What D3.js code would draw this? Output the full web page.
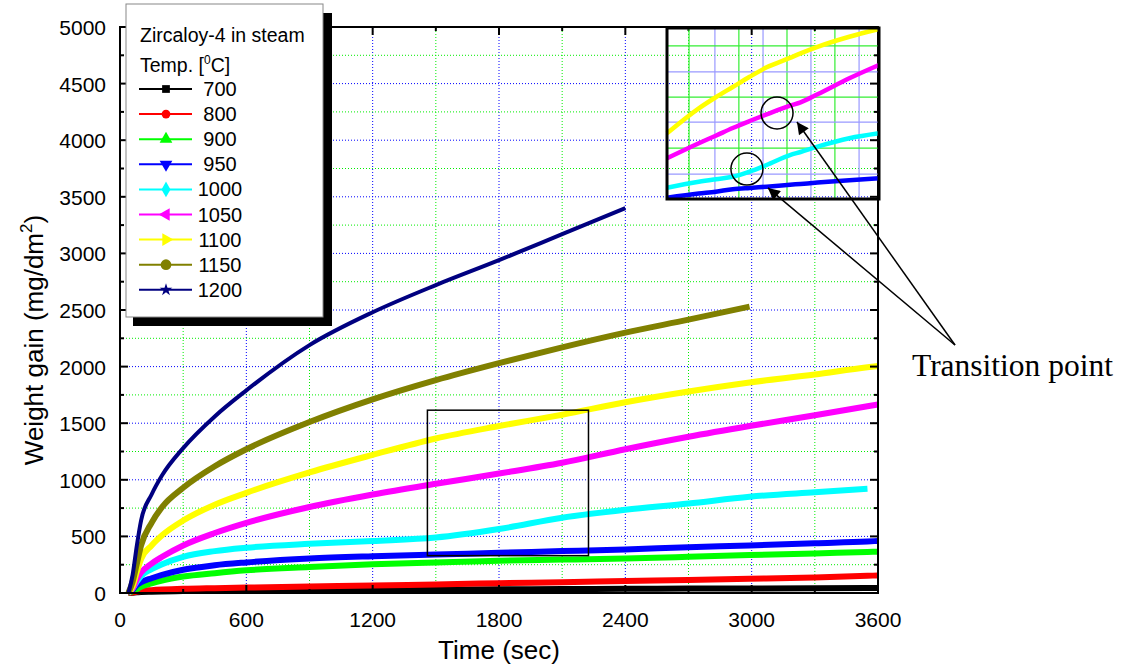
<!DOCTYPE html>
<html>
<head>
<meta charset="utf-8">
<script src="https://cdn.jsdelivr.net/npm/d3@7"></script>
<style>
  body { margin: 0; background: #fff; }
  text { font-family: Arial, "Liberation Sans", sans-serif; }
</style>
</head>
<body>
<svg id="chart" width="1132" height="668"></svg>
<script>
// weight gain of Zircaloy-4 in steam
var timeSec = [40, 60, 80, 100, 150, 200, 300, 450, 600, 900, 1200, 1500, 1800, 2100, 2400, 2700, 2990, 3300, 3550, 3600];

var temps = ["700", "800", "900", "950", "1000", "1050", "1100", "1150", "1200"];
var colors = ["#000000", "#ff0000", "#00ff00", "#0000ff", "#00ffff", "#ff00ff", "#ffff00", "#808000", "#000080"];

var w700  = [0, 3, 6, 9, 12, 14, 17, 20, 22, 26, 29, 31, 33, 35, 37, 39, 40, 42, 44, 44];
var w800  = [0, 5, 12, 18, 25, 30, 37, 43, 48, 57, 66, 76, 86, 95, 105, 115, 125, 138, 152, 155];
var w900  = [0, 15, 35, 55, 85, 110, 145, 175, 200, 230, 255, 270, 285, 295, 305, 320, 335, 350, 362, 365];
var w950  = [0, 30, 70, 95, 130, 160, 205, 245, 270, 305, 325, 340, 355, 370, 385, 405, 420, 440, 455, 460];
var w1000 = [0, 40, 100, 150, 210, 255, 320, 370, 400, 435, 460, 490, 565, 665, 735, 790, 850, 890, 920, null];
var w1050 = [0, 40, 120, 180, 260, 320, 420, 530, 620, 760, 870, 965, 1055, 1150, 1270, 1380, 1475, 1570, 1650, 1665];
var w1100 = [0, 60, 190, 300, 420, 510, 640, 780, 885, 1065, 1220, 1365, 1475, 1575, 1685, 1780, 1860, 1930, 1995, 2005];
var w1150 = [0, 100, 260, 420, 620, 760, 930, 1120, 1270, 1510, 1710, 1880, 2030, 2170, 2300, 2415, 2530, null, null, null];
var w1200 = [0, 160, 420, 640, 870, 1040, 1280, 1560, 1790, 2190, 2480, 2720, 2940, 3170, 3400, null, null, null, null, null];

// inset (magnified view), relative units 0-100
var insetX = [0, 15, 23, 31, 39, 47, 58, 63, 71, 86, 100];
var insetBlue    = [0.8, 3.2, 4.3, 5.7, 6.5, 7.2, 8.3, 8.8, 9.6, 11, 12.1];
var insetCyan    = [6.6, 10.1, 11.6, 13, 16, 19.9, 25.7, 27.5, 30.6, 35.5, 38.4];
var insetMagenta = [23.8, 32.6, 37, 41.5, 45.6, 49.5, 54.6, 56.5, 61.2, 70.6, 78.4];
var insetYellow  = [38.4, 53, 59.5, 65.5, 71.5, 77, 82.5, 85.2, 89, 94.9, 99.4];

var xTicks = [0, 600, 1200, 1800, 2400, 3000, 3600];
var yTicks = [0, 500, 1000, 1500, 2000, 2500, 3000, 3500, 4000, 4500, 5000];

var series = [w700, w800, w900, w950, w1000, w1050, w1100, w1150, w1200];

var svg = d3.select("#chart");

var x = d3.scaleLinear().domain([0, 3600]).range([120, 878]);
var y = d3.scaleLinear().domain([0, 5000]).range([593, 27]);

// grid
var grid = svg.append("g").attr("class", "grid");
d3.range(300, 3600, 300).forEach(function (t) {
    grid.append("line")
        .attr("x1", x(t)).attr("x2", x(t))
        .attr("y1", y(0)).attr("y2", y(5000))
        .attr("stroke", t % 600 == 0 ? "#0000ff" : "#00ee00")
        .attr("stroke-width", 1)
        .attr("stroke-dasharray", "1,2");
});
d3.range(250, 5000, 250).forEach(function (v) {
    grid.append("line")
        .attr("x1", x(0)).attr("x2", x(3600))
        .attr("y1", y(v)).attr("y2", y(v))
        .attr("stroke", v % 500 == 0 ? "#0000ff" : "#00ee00")
        .attr("stroke-width", 1)
        .attr("stroke-dasharray", "1,2");
});

// curves
var line = d3.line()
    .defined(function (d) { return d[1] != null; })
    .x(function (d) { return x(d[0]); })
    .y(function (d) { return y(d[1]); })
    .curve(d3.curveMonotoneX);

series.forEach(function (vals, i) {
    var pts = timeSec.map(function (t, j) { return [t, vals[j]]; });
    svg.append("path")
        .datum(pts)
        .attr("fill", "none")
        .attr("stroke", colors[i])
        .attr("stroke-width", i == 8 ? 4 : 6)
        .attr("stroke-linejoin", "round")
        .attr("d", line);
});

// zoom rectangle in main plot
svg.append("rect")
    .attr("x", x(1460)).attr("y", y(1615))
    .attr("width", x(2225) - x(1460))
    .attr("height", y(330) - y(1615))
    .attr("fill", "none")
    .attr("stroke", "#000")
    .attr("stroke-width", 1.5);

// frame + axes
svg.append("rect")
    .attr("x", x(0)).attr("y", y(5000))
    .attr("width", x(3600) - x(0))
    .attr("height", y(0) - y(5000))
    .attr("fill", "none")
    .attr("stroke", "#000")
    .attr("stroke-width", 2);

var ticks = svg.append("g");
d3.range(0, 3601, 300).forEach(function (t) {
    var len = t % 600 == 0 ? 8 : 4;
    ticks.append("line").attr("x1", x(t)).attr("x2", x(t))
        .attr("y1", y(0)).attr("y2", y(0) - len).attr("stroke", "#000").attr("stroke-width", 2);
    ticks.append("line").attr("x1", x(t)).attr("x2", x(t))
        .attr("y1", y(5000)).attr("y2", y(5000) + len).attr("stroke", "#000").attr("stroke-width", 2);
});
d3.range(0, 5001, 250).forEach(function (v) {
    var len = v % 500 == 0 ? 8 : 4;
    ticks.append("line").attr("x1", x(0)).attr("x2", x(0) + len)
        .attr("y1", y(v)).attr("y2", y(v)).attr("stroke", "#000").attr("stroke-width", 2);
    ticks.append("line").attr("x1", x(3600)).attr("x2", x(3600) - len)
        .attr("y1", y(v)).attr("y2", y(v)).attr("stroke", "#000").attr("stroke-width", 2);
});

svg.append("g").selectAll("text")
    .data(xTicks).enter().append("text")
    .attr("x", function (d) { return x(d); })
    .attr("y", 627)
    .attr("text-anchor", "middle")
    .attr("font-size", 21)
    .text(function (d) { return d; });

svg.append("g").selectAll("text")
    .data(yTicks).enter().append("text")
    .attr("x", 106)
    .attr("y", function (d) { return y(d) + 8; })
    .attr("text-anchor", "end")
    .attr("font-size", 21)
    .text(function (d) { return d; });

svg.append("text")
    .attr("x", x(1800))
    .attr("y", 659)
    .attr("text-anchor", "middle")
    .attr("font-size", 26)
    .text("Time (sec)");

var ylab = svg.append("text")
    .attr("transform", "translate(43,340) rotate(-90)")
    .attr("text-anchor", "middle")
    .attr("font-size", 26);
ylab.append("tspan").text("Weight gain (mg/dm");
ylab.append("tspan").attr("dy", -11).attr("font-size", 17).text("2");
ylab.append("tspan").attr("dy", 11).text(")");

// inset
var ix = d3.scaleLinear().domain([0, 100]).range([667, 879]);
var iy = d3.scaleLinear().domain([0, 100]).range([199, 28]);
var inset = svg.append("g");
[10.4, 22.6, 33.9, 45.3, 56.6, 67.9, 79.2, 90.6].forEach(function (v, i) {
    inset.append("line").attr("x1", ix(v)).attr("x2", ix(v))
        .attr("y1", iy(0)).attr("y2", iy(100))
        .attr("stroke", i % 2 == 0 ? "#33ee33" : "#9999ff").attr("stroke-width", 1.2);
});
[14.6, 29.8, 45, 59.6, 74.3, 89.5].forEach(function (v, i) {
    inset.append("line").attr("x1", ix(0)).attr("x2", ix(100))
        .attr("y1", iy(v)).attr("y2", iy(v))
        .attr("stroke", i % 2 == 0 ? "#9999ff" : "#33ee33").attr("stroke-width", 1.2);
});
var iline = d3.line()
    .x(function (d) { return ix(d[0]); })
    .y(function (d) { return iy(d[1]); })
    .curve(d3.curveMonotoneX);
[[insetBlue, "#0000ff"], [insetCyan, "#00ffff"], [insetMagenta, "#ff00ff"], [insetYellow, "#ffff00"]].forEach(function (s) {
    inset.append("path")
        .datum(insetX.map(function (v, j) { return [v, s[0][j]]; }))
        .attr("fill", "none")
        .attr("stroke", s[1])
        .attr("stroke-width", 4.5)
        .attr("d", iline);
});
inset.append("circle").attr("cx", ix(51.9)).attr("cy", iy(50.3)).attr("r", 16)
    .attr("fill", "none").attr("stroke", "#000").attr("stroke-width", 1.5);
inset.append("circle").attr("cx", ix(37.7)).attr("cy", iy(17.5)).attr("r", 16)
    .attr("fill", "none").attr("stroke", "#000").attr("stroke-width", 1.5);
inset.append("rect")
    .attr("x", ix(0)).attr("y", iy(100))
    .attr("width", ix(100) - ix(0)).attr("height", iy(0) - iy(100))
    .attr("fill", "none").attr("stroke", "#000").attr("stroke-width", 3);

// annotation arrows
svg.append("defs").append("marker")
    .attr("id", "head")
    .attr("viewBox", "0 0 10 10")
    .attr("refX", 10).attr("refY", 5)
    .attr("markerWidth", 15).attr("markerHeight", 12)
    .attr("markerUnits", "userSpaceOnUse")
    .attr("orient", "auto")
    .append("path").attr("d", "M0,0L10,5L0,10z").attr("fill", "#000");

[[ix(61.3), iy(45)], [ix(47.6), iy(6.5)]].forEach(function (p) {
    svg.append("line")
        .attr("x1", 955).attr("y1", 345)
        .attr("x2", p[0]).attr("y2", p[1])
        .attr("stroke", "#000").attr("stroke-width", 1.5)
        .attr("marker-end", "url(#head)");
});
svg.append("text")
    .attr("x", 912).attr("y", 376)
    .style("font-family", "'Times New Roman', 'Liberation Serif', serif")
    .attr("font-size", 31.5)
    .text("Transition point");

// legend
var lg = svg.append("g");
lg.append("rect").attr("x", 133).attr("y", 13).attr("width", 199).attr("height", 313).attr("fill", "#000");
lg.append("rect").attr("x", 126).attr("y", 4).attr("width", 197).attr("height", 313)
    .attr("fill", "#fff").attr("stroke", "#888").attr("stroke-width", 1);
lg.append("text").attr("x", 140).attr("y", 42).attr("font-size", 19.5).text("Zircaloy-4 in steam");
var tt = lg.append("text").attr("x", 140).attr("y", 72).attr("font-size", 19.5);
tt.append("tspan").text("Temp. [");
tt.append("tspan").attr("dy", -8).attr("font-size", 12).text("0");
tt.append("tspan").attr("dy", 8).text("C]");

var symbols = [d3.symbolSquare, d3.symbolCircle, d3.symbolTriangle, d3.symbolTriangle, d3.symbolDiamond,
    d3.symbolTriangle, d3.symbolTriangle, d3.symbolCircle, d3.symbolStar];
var rotations = [0, 0, 0, 180, 0, -90, 90, 0, 0];
var sizes = [60, 60, 70, 70, 70, 70, 70, 90, 50];

temps.forEach(function (t, i) {
    var cy = 89 + i * 25.1;
    lg.append("line").attr("x1", 139).attr("x2", 192).attr("y1", cy).attr("y2", cy)
        .attr("stroke", colors[i]).attr("stroke-width", 2);
    lg.append("path")
        .attr("d", d3.symbol().type(symbols[i]).size(sizes[i]))
        .attr("transform", "translate(166," + cy + ") rotate(" + rotations[i] + ")")
        .attr("fill", colors[i]);
    lg.append("text").attr("x", 220).attr("y", cy + 7)
        .attr("text-anchor", "middle").attr("font-size", 20).text(t);
});
</script>
</body>
</html>
